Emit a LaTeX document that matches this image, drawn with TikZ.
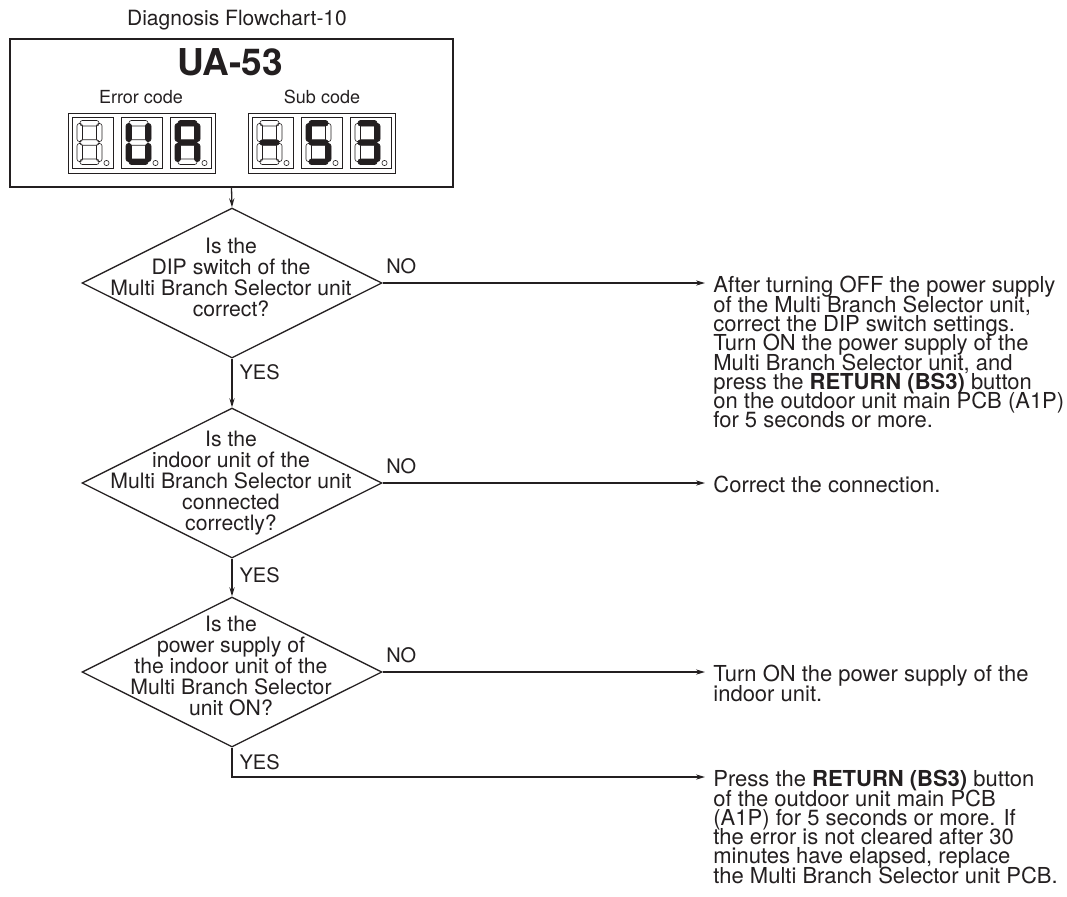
\documentclass[tikz,border=0pt]{standalone}
\usepackage{fontspec}
\setmainfont{TeX Gyre Heros}
\usetikzlibrary{shapes.geometric,arrows.meta}

\definecolor{ink}{RGB}{35,31,32}

\tikzset{
  segoff/.style={draw=ink, line width=0.3pt, rounded corners=1.2pt},
  segon/.style={draw=ink, fill=ink, line width=0.3pt, rounded corners=1.2pt},
  sa/.style=segoff, sb/.style=segoff, sc/.style=segoff, sd/.style=segoff,
  se/.style=segoff, sf/.style=segoff, sg/.style=segoff,
  lit/.style={s#1/.style=segon},
  cellline/.style={draw=ink, line width=0.5pt}
}

% one cell of the seven segment display, #3 = lit segments
\newcommand{\digitcell}[3]{%
  \begin{scope}[shift={(#1,#2)}, lit/.list={#3}]
    \draw[cellline] (0,0) rectangle (41,51);
    \path[sa] (8,3.5) rectangle (27,9);
    \path[sb] (24.5,6.5) rectangle (30,24.5);
    \path[sc] (24.5,26.5) rectangle (30,44.5);
    \path[sd] (8,42) rectangle (27,47.5);
    \path[se] (5,26.5) rectangle (10.5,44.5);
    \path[sf] (5,6.5) rectangle (10.5,24.5);
    \path[sg] (8,22.75) rectangle (27,28.25);
    \draw[segoff] (34.5,46) circle[radius=1.3pt];
  \end{scope}}

\begin{document}
\begin{tikzpicture}[
  x=0.5pt, y=-0.5pt,
  every node/.style={text=ink},
  line/.style={draw=ink, line width=0.65pt},
  >={Stealth[length=4.5pt,width=2.6pt]},
  codebox/.style={draw=ink, line width=0.65pt, minimum width=221.5pt, minimum height=74pt, inner sep=0},
  decision/.style={diamond, draw=ink, line width=0.65pt, minimum width=150pt, minimum height=75pt, inner sep=0},
  qtext/.style={align=center, inner sep=0, font={\fontsize{10.6pt}{10.5pt}\selectfont\lineskiplimit=-10pt}},
  answer/.style={anchor=north west, align=left, inner xsep=4pt, inner ysep=0, font={\fontsize{11pt}{9.65pt}\selectfont\lineskiplimit=-10pt}},
  yeslab/.style={anchor=west, inner sep=0, xshift=3.5pt, font=\fontsize{10pt}{12pt}\selectfont},
  nolab/.style={anchor=south west, inner sep=0, xshift=1.5pt, yshift=4.5pt, font=\fontsize{10pt}{12pt}\selectfont}
]
\useasboundingbox (0,0) rectangle (1067,896);

\node[anchor=base, font=\fontsize{10.5pt}{12pt}\selectfont] (title) at (237,25) {Diagnosis Flowchart-10};
\node[codebox] (code) at (231.5,113) {};
\node[inner sep=0, font=\fontsize{18.5pt}{21pt}\selectfont\bfseries] (ua) at (230,62.5) {UA-53};
\node[inner sep=0, font=\fontsize{9pt}{11pt}\selectfont] (errlab) at (141,97) {Error code};
\node[inner sep=0, font=\fontsize{9pt}{11pt}\selectfont] (sublab) at (322,97) {Sub code};

\draw[cellline] (68,113) rectangle (215,173);
\draw[cellline] (248,113) rectangle (395,173);
\digitcell{72}{117}{}
\digitcell{121}{117}{b,c,d,e,f}
\digitcell{170}{117}{a,b,c,e,f,g}
\digitcell{252}{117}{g}
\digitcell{301}{117}{a,c,d,f,g}
\digitcell{350}{117}{a,b,c,d,g}

\node[decision] (q1) at (232,283) {};
\node[qtext] (q1t) at (231,277) {Is the\\DIP switch of the\\Multi Branch Selector unit\\correct?};
\node[decision] (q2) at (232,483) {};
\node[qtext] (q2t) at (231,483) {Is the\\indoor unit of the\\Multi Branch Selector unit\\connected\\correctly?};
\node[decision] (q3) at (232,672) {};
\node[qtext] (q3t) at (231,666) {Is the\\power supply of\\the indoor unit of the\\Multi Branch Selector\\unit ON?};

\node[answer] (a1) at (705,276) {After turning OFF the power supply\\of the Multi Branch Selector unit,\\correct the DIP switch settings.\\Turn ON the power supply of the\\Multi Branch Selector unit, and\\press the \textbf{RETURN (BS3)} button\\on the outdoor unit main PCB (A1P)\\for 5 seconds or more.};
\node[answer] (a2) at (705,476) {Correct the connection.};
\node[answer] (a3) at (705,665) {Turn ON the power supply of the\\indoor unit.};
\node[answer] (a4) at (705,770) {Press the \textbf{RETURN (BS3)} button\\of the outdoor unit main PCB\\(A1P) for 5 seconds or more. If\\the error is not cleared after 30\\minutes have elapsed, replace\\the Multi Branch Selector unit PCB.};

\draw[line,->] (code.south) -- (q1.north);
\draw[line,->] (q1.south) -- node[yeslab, pos=0.28] {YES} (q2.north);
\draw[line,->] (q2.south) -- node[yeslab, pos=0.44] {YES} (q3.north);
\draw[line,->] (q1.east) -- node[nolab, pos=0] {NO} (q1.east -| a1.west);
\draw[line,->] (q2.east) -- node[nolab, pos=0] {NO} (q2.east -| a2.west);
\draw[line,->] (q3.east) -- node[nolab, pos=0] {NO} (q3.east -| a3.west);
\coordinate (yes3) at (q3.south |- 0,777);
\draw[line,->] (q3.south) |- node[yeslab, pos=0.25] {YES} (a4.west |- yes3);
\end{tikzpicture}
\end{document}
